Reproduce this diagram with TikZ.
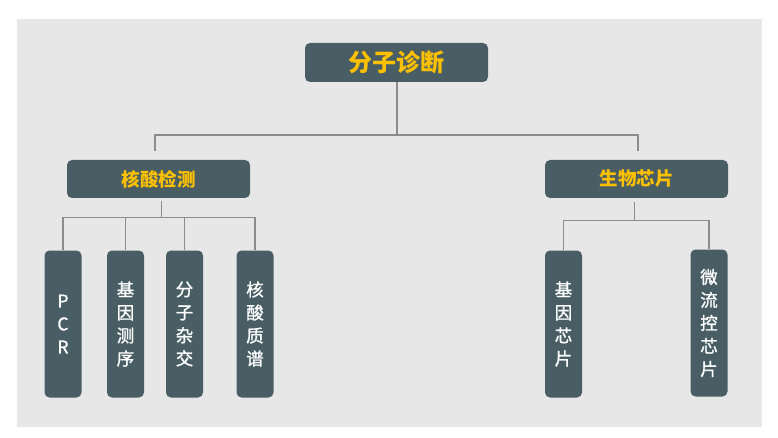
\documentclass[tikz,border=0pt]{standalone}
\usepackage{fontspec}
\setmainfont{Noto Sans CJK SC}
\newfontfamily\leaffont{Noto Sans CJK SC}[FakeBold=1.2]
\usetikzlibrary{calc}
\definecolor{bgc}{HTML}{E7E7E7}
\definecolor{boxc}{HTML}{485E64}
\definecolor{linec}{HTML}{8C8C8C}
\definecolor{yel}{HTML}{FFC000}
\tikzset{
  box/.style={fill=boxc, rounded corners=5pt, inner sep=0pt, draw=none},
  topbox/.style={box, text=yel, font=\bfseries\fontsize{24}{28}\selectfont, minimum width=183pt, minimum height=39pt},
  midbox/.style={box, text=yel, font=\bfseries\fontsize{18.5}{22}\selectfont, minimum width=183pt, minimum height=38pt},
  leaf/.style={box, text=white, font=\leaffont\fontsize{17.5}{23}\selectfont, align=center, minimum width=37pt, minimum height=147pt},
  conn/.style={draw=linec, line width=1.5pt}
}
\begin{document}
\begin{tikzpicture}[x=1pt,y=-1pt]
\useasboundingbox (0,0) rectangle (778,438);
\fill[bgc] (17,19) rectangle (762,427);
\node[topbox] (root) at (396.5,62.5) {分子诊断};
\node[midbox] (nas) at (158.5,179) {核酸检测};
\node[midbox] (chip) at (636.5,179) {生物芯片};
\node[leaf] (pcr) at (63,324) {P\\C\\R};
\node[leaf] (seq) at (125.5,324) {基\\因\\测\\序};
\node[leaf] (hyb) at (184.5,324) {分\\子\\杂\\交};
\node[leaf] (ms) at (255,324) {核\\酸\\质\\谱};
\node[leaf] (gc) at (563.5,324) {基\\因\\芯\\片};
\node[leaf] (mf) at (709,323) {微\\流\\控\\芯\\片};
% level 1 connectors
\coordinate (j0) at (397,135);
\coordinate (nasin) at (155,151);
\coordinate (chipin) at (638,151);
\draw[conn] (root.south -| j0) -- (j0);
\draw[conn] (nasin) |- (j0) -| (chipin);
% left group
\coordinate (nasout) at (161.7,201);
\coordinate (j1) at (161.7,217.5);
\draw[conn] (nasout) -- (j1);
\draw[conn] (pcr.north) |- (j1);
\draw[conn] (ms.north) |- (j1);
\draw[conn] (seq.north) -- (seq.north |- j1);
\draw[conn] (hyb.north) -- (hyb.north |- j1);
% right group
\coordinate (chipout) at (634.3,202);
\coordinate (j2) at (634.3,220.7);
\draw[conn] (chipout) -- (j2);
\draw[conn] (gc.north) |- (j2);
\draw[conn] (mf.north) |- (j2);
\end{tikzpicture}
\end{document}
